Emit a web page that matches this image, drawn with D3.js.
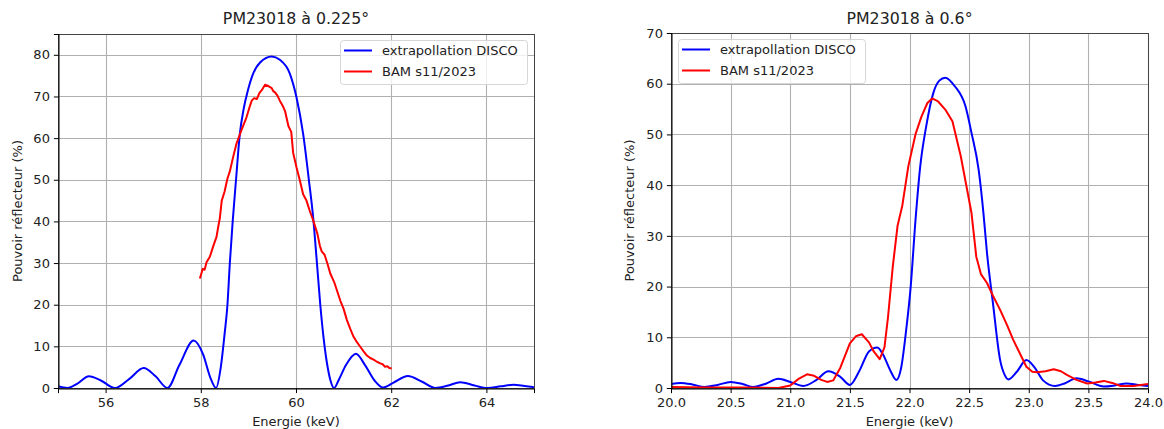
<!DOCTYPE html>
<html><head><meta charset="utf-8">
<script src="https://cdn.jsdelivr.net/npm/d3@7"></script>
<style>
body{margin:0;background:#fff;}
svg{display:block;font-family:"DejaVu Sans",sans-serif;}
</style></head><body>
<svg id="chart" width="1164" height="429"></svg>
<script>
// ---- data ----
const titles = ["PM23018 à 0.225°", "PM23018 à 0.6°"];
const seriesNames = ["extrapollation DISCO", "BAM s11/2023"];
const xLabel = "Energie (keV)";
const yLabel = "Pouvoir réflecteur (%)";

const leftXTicks = [56, 58, 60, 62, 64];
const leftYTicks = [0, 10, 20, 30, 40, 50, 60, 70, 80];
const rightXTicks = [20.0, 20.5, 21.0, 21.5, 22.0, 22.5, 23.0, 23.5, 24.0];
const rightYTicks = [0, 10, 20, 30, 40, 50, 60, 70];

const leftDiscoE = [55.0,55.2,55.4,55.65,55.9,56.2,56.5,56.8,57.05,57.3,57.55,57.85,58.05,58.2,58.32,58.42,58.5,58.56,58.61,58.67,58.74,58.82,58.9,58.99,59.1,59.25,59.49,59.66,59.87,60.01,60.15,60.27,60.36,60.44,60.51,60.58,60.65,60.72,60.8,60.9,61.05,61.26,61.45,61.65,61.83,62.05,62.35,62.65,62.93,63.2,63.45,63.75,64.02,64.3,64.57,64.8,65.0];
const leftDiscoR = [0.4,0.0,1.0,2.8,1.8,0.0,2.2,4.8,2.8,0.0,5.5,11.4,8.0,2.5,0.0,5.0,13,20,30,40,50,61,67,71.5,75.5,78.2,79.6,78.8,75.5,69.8,61,50,41,30,20,12,6,2,0,2,5.5,8.2,5.5,1.8,0.1,1.3,2.9,1.5,0,0.6,1.4,0.6,0,0.4,0.8,0.5,0.2];

const leftBamE = [57.98,58.02,58.04,58.08,58.12,58.19,58.26,58.33,58.36,58.4,58.44,58.5,58.56,58.61,58.68,58.75,58.85,58.96,59.02,59.07,59.12,59.18,59.23,59.28,59.35,59.42,59.49,59.52,59.56,59.61,59.66,59.72,59.77,59.84,59.9,59.94,60.01,60.08,60.15,60.22,60.29,60.36,60.45,60.5,60.54,60.6,60.66,60.72,60.8,60.93,61.0,61.07,61.14,61.21,61.28,61.35,61.42,61.49,61.56,61.63,61.7,61.77,61.82,61.87,61.92,61.96,62.01];
const leftBamR = [26.3,27.8,28.6,28.4,30.2,31.5,34.0,36.3,38.3,40.8,45,47.2,50.3,52,55.5,58.7,61.8,65,67.3,69,69.6,69.4,70.8,71.5,72.8,72.5,72,71.3,71,70.2,69,67.8,66.5,62.9,61.5,56.5,53,49.9,46.5,45,42.5,40.3,37,34.2,32.8,32,29.9,27.5,25.5,21,19,16.3,14.2,12.3,11,9.9,8.8,7.8,7.2,6.8,6.3,5.9,5.7,5.1,5.2,4.8,4.7];

const rightDiscoE = [20.0,20.08,20.18,20.28,20.39,20.5,20.6,20.69,20.8,20.9,21.0,21.11,21.22,21.32,21.42,21.5,21.58,21.66,21.73,21.78,21.84,21.89,21.93,21.97,22.01,22.05,22.09,22.14,22.2,22.25,22.3,22.38,22.47,22.52,22.58,22.62,22.65,22.7,22.76,22.8,22.83,22.9,22.98,23.05,23.12,23.22,23.3,23.4,23.5,23.63,23.72,23.82,23.92,24.0];
const rightDiscoR = [0.8,1.0,0.7,0.2,0.6,1.2,0.8,0.2,0.9,1.8,1.2,0.4,1.6,3.3,2.2,0.6,3.4,7.2,8.0,6.5,3.4,1.6,4,11,20,33,43.7,51.6,58.2,60.6,61.2,59.5,55.5,50.3,43,34.5,26.6,16.7,5.5,2.5,1.7,3.2,5.5,4.0,1.5,0.4,0.9,1.9,1.3,0.3,0.5,0.9,0.6,0.4];

const rightBamE = [20.0,20.3,20.6,20.9,21.0,21.07,21.14,21.2,21.26,21.31,21.36,21.42,21.5,21.55,21.6,21.66,21.7,21.75,21.79,21.82,21.86,21.9,21.94,21.99,22.05,22.1,22.15,22.19,22.24,22.3,22.36,22.43,22.52,22.56,22.6,22.65,22.7,22.76,22.82,22.87,22.93,22.98,23.03,23.07,23.14,23.21,23.27,23.32,23.4,23.49,23.56,23.63,23.7,23.77,23.88,24.0];
const rightBamR = [0.2,0.1,0.1,0.0,0.5,1.8,2.7,2.4,1.6,1.2,1.5,4,8.8,10.2,10.6,9,7.2,5.7,8,14,24,32,36,43.7,50,53.5,56.2,57.1,56.5,54.9,52.6,45.7,34.5,25.9,22.4,20.7,18.2,15.4,12.3,9.5,6.6,4.2,3.2,3.1,3.3,3.7,3.3,2.6,1.6,0.9,1.1,1.4,1.0,0.4,0.4,0.8];

// ---- drawing ----
const svg = d3.select("#chart");
const colors = ["#0000ff", "#ff0000"];

function drawPanel(cfg) {
  const {left, right, top, bottom, xDomain, yDomain, xTicks, yTicks, xFmt, title, series, legend} = cfg;
  const x = d3.scaleLinear().domain(xDomain).range([left, right]);
  const y = d3.scaleLinear().domain(yDomain).range([bottom, top]);
  const g = svg.append("g");

  // grid
  g.append("g").selectAll("line").data(xTicks).join("line")
    .attr("x1", d => Math.round(x(d)) + 0.5).attr("x2", d => Math.round(x(d)) + 0.5)
    .attr("y1", top).attr("y2", bottom)
    .attr("stroke", "#b0b0b0").attr("stroke-width", 1.1);
  g.append("g").selectAll("line").data(yTicks).join("line")
    .attr("y1", d => Math.round(y(d)) + 0.5).attr("y2", d => Math.round(y(d)) + 0.5)
    .attr("x1", left).attr("x2", right)
    .attr("stroke", "#b0b0b0").attr("stroke-width", 1.1);

  // clip
  const id = "clip" + Math.round(left);
  svg.append("clipPath").attr("id", id).append("rect")
    .attr("x", left).attr("y", top).attr("width", right - left).attr("height", bottom - top + 1);

  series.forEach((s, i) => {
    const pts = s.e.map((e, k) => [e, s.r[k]]);
    g.append("path").datum(pts)
      .attr("clip-path", `url(#${id})`)
      .attr("fill", "none").attr("stroke", colors[i]).attr("stroke-width", 2)
      .attr("stroke-linejoin", "round")
      .attr("d", d3.line().x(d => x(d[0])).y(d => y(d[1])).curve(s.smooth ? d3.curveMonotoneX : d3.curveLinear));
  });

  // frame
  g.append("rect").attr("x", left + 0.5).attr("y", top + 0.5)
    .attr("width", right - left).attr("height", bottom - top)
    .attr("fill", "none").attr("stroke", "#444").attr("stroke-width", 1);

  // axes
  const xa = g.append("g").attr("transform", `translate(0,${bottom + 0.5})`)
    .call(d3.axisBottom(x).tickValues(xTicks).tickFormat(xFmt).tickSizeOuter(0).tickSize(4.6).tickPadding(4));
  const ya = g.append("g").attr("transform", `translate(${left + 0.5},0)`)
    .call(d3.axisLeft(y).tickValues(yTicks).tickFormat(d3.format("d")).tickSizeOuter(0).tickSize(4.6).tickPadding(4));
  [xa, ya].forEach(a => {
    a.select(".domain").attr("stroke", "#000");
    a.selectAll(".tick line").attr("stroke", "#000");
    a.selectAll("text").attr("font-size", 13).attr("fill", "#222").attr("font-family", "DejaVu Sans");
  });
  xa.selectAll("text").attr("dy", "0.75em");

  // labels
  g.append("text").attr("x", (left + right) / 2).attr("y", 426)
    .attr("text-anchor", "middle").attr("font-size", 13).attr("fill", "#222").text(xLabel);
  g.append("text").attr("transform", `translate(${cfg.yLabelX},${(top + bottom) / 2}) rotate(-90)`)
    .attr("text-anchor", "middle").attr("font-size", 13).attr("fill", "#222").text(yLabel);
  g.append("text").attr("x", (left + right) / 2).attr("y", 24)
    .attr("text-anchor", "middle").attr("font-size", 15.8).attr("fill", "#222").text(title);

  // legend
  const lg = g.append("g");
  lg.append("rect").attr("x", legend.x + 0.5).attr("y", legend.y + 0.5).attr("width", legend.w).attr("height", 44)
    .attr("rx", 3).attr("fill", "#fff").attr("fill-opacity", 0.8).attr("stroke", "#d6d6d6");
  seriesNames.forEach((n, i) => {
    const yy = legend.y + 10.5 + i * 21;
    lg.append("line").attr("x1", legend.x + 4).attr("x2", legend.x + 32).attr("y1", yy).attr("y2", yy)
      .attr("stroke", colors[i]).attr("stroke-width", 2);
    lg.append("text").attr("x", legend.x + 42).attr("y", yy + 4.5).attr("font-size", 13).attr("fill", "#222").text(n);
  });
}

drawPanel({
  left: 58, right: 534, top: 34, bottom: 388,
  xDomain: [55, 65], yDomain: [0, 85],
  xTicks: leftXTicks, yTicks: leftYTicks, xFmt: d3.format("d"),
  title: titles[0], yLabelX: 22,
  series: [{e: leftDiscoE, r: leftDiscoR, smooth: true}, {e: leftBamE, r: leftBamR, smooth: false}],
  legend: {x: 340, y: 40, w: 187}
});
drawPanel({
  left: 671, right: 1148, top: 33, bottom: 388,
  xDomain: [20, 24], yDomain: [0, 70],
  xTicks: rightXTicks, yTicks: rightYTicks, xFmt: d3.format(".1f"),
  title: titles[1], yLabelX: 634,
  series: [{e: rightDiscoE, r: rightDiscoR, smooth: true}, {e: rightBamE, r: rightBamR, smooth: false}],
  legend: {x: 678, y: 39, w: 187}
});
</script>
</body></html>
